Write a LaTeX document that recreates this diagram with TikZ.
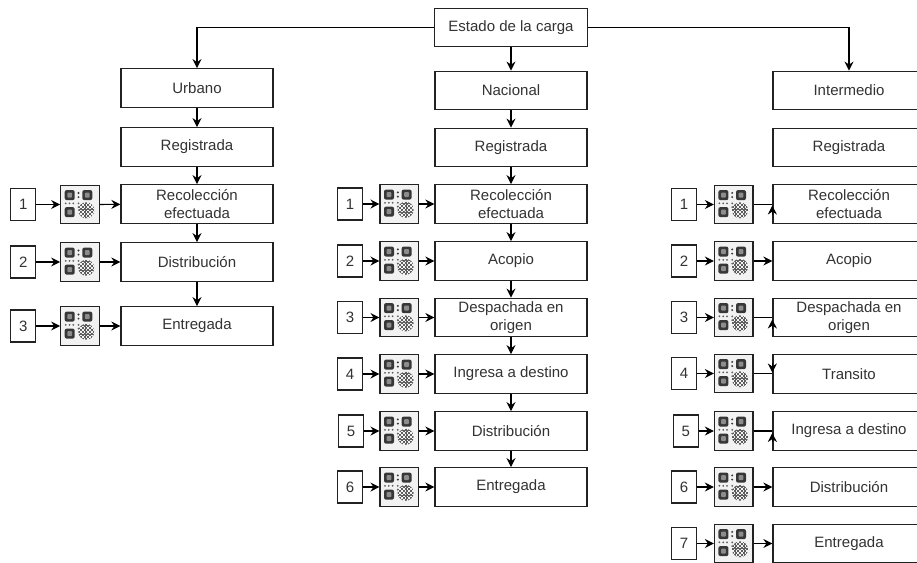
\documentclass[tikz,border=0pt]{standalone}
\usepackage{fontspec}
\setmainfont{Liberation Sans}
\usetikzlibrary{arrows.meta,calc}
\definecolor{boxc}{RGB}{34,34,34}
\definecolor{txtc}{RGB}{51,51,51}
\definecolor{qrfill}{RGB}{242,242,242}
\definecolor{qrdark}{RGB}{55,55,55}
\definecolor{qrmid}{RGB}{140,140,140}
\definecolor{qrgray}{RGB}{95,95,95}
\newcommand\lab{\fontsize{15}{17.5}\selectfont}
\tikzset{
  box/.style={draw=boxc, line width=1.3pt, minimum width=152pt, minimum height=38.5pt,
    inner sep=0pt, font=\lab, text=txtc, align=center, fill=white},
  numbox/.style={draw=boxc, line width=1.2pt, minimum width=25pt, minimum height=32pt,
    inner sep=0pt, font=\lab, text=txtc, fill=white},
  qrbox/.style={draw=boxc, line width=1.2pt, minimum width=38.5pt, minimum height=38.5pt,
    inner sep=0pt, fill=qrfill},
  conn/.style={line width=1.2pt, draw=black},
  arr/.style={conn, -{Stealth[length=9pt,width=9pt,inset=3pt]}},
  qrpic/.pic={
    \foreach \px/\py in {-10.3/-9.4, 7.3/-9.4, -10.3/7.6}{
      \fill[qrdark, rounded corners=2pt] ({\px-5},{\py-5}) rectangle ({\px+5},{\py+5});
      \fill[qrmid, rounded corners=0.8pt] ({\px-2.4},{\py-2.4}) rectangle ({\px+2.4},{\py+2.4});
    }
    \fill[qrdark] (-1.5,-11.6) circle (1.1);
    \fill[qrdark] (-1.5,-7.4) circle (1.1);
    \fill[qrgray] (-14.3,-1.2) circle (1);
    \fill[qrgray] (-10.5,-1.2) circle (1);
    \fill[qrgray] (-6.7,-1.2) circle (1);
    \fill[qrgray] (-1.5,-1.2) circle (1);
    \fill[qrgray] (-1.5,2.6) circle (1);
    \begin{scope}
      \clip (6.3,5.8) circle (8);
      \foreach \i in {-5,...,5}{
        \foreach \j in {-5,...,5}{
          \pgfmathtruncatemacro\kk{mod(\i+\j+10,2)}
          \ifnum\kk=0
            \fill[qrgray] ({6.3+(\i)*1.8-1},{5.8+(\j)*1.8-1}) rectangle ++(2,2);
          \fi
        }
      }
    \end{scope}
  }
}
\newcommand\qrrow[5]{%
  \node[numbox] (#1n) at (#3,#5) {#2};
  \node[qrbox] (#1q) at (#4,#5) {};
  \pic at (#1q.center) {qrpic};
  \draw[arr] (#1n) -- (#1q);
}
\begin{document}
\begin{tikzpicture}[x=1pt,y=-1pt]
\useasboundingbox (0,0) rectangle (917,562);
\clip (0,0) rectangle (917,562);
\fill[white] (0,0) rectangle (917,562);

% top
\node[box, minimum width=153pt] (est) at (511,27.5) {Estado de la carga};
\node[box] (urb) at (197,88) {Urbano};
\node[box] (nac) at (511,90.5) {Nacional};
\node[box] (int) at (849,90.5) {Intermedio};
\draw[arr] (est.west) -| (urb.north);
\draw[arr] (est.east) -| (int.north);
\draw[arr] (est) -- (nac);

% Urbano column
\node[box] (u0) at (197,147) {Registrada};
\node[box] (u1) at (197,204) {Recolección\\efectuada};
\node[box] (u2) at (197,262) {Distribución};
\node[box] (u3) at (197,326) {Entregada};
\draw[arr] (urb) -- (u0);
\draw[arr] (u0) -- (u1);
\draw[arr] (u1) -- (u2);
\draw[arr] (u2) -- (u3);
\qrrow{ua}{1}{23.3}{80}{204.5}
\qrrow{ub}{2}{23.3}{80}{262}
\qrrow{uc}{3}{23.3}{80}{326}
\draw[arr] (uaq) -- (u1);
\draw[arr] (ubq) -- (u2);
\draw[arr] (ucq) -- (u3);

% Nacional column
\node[box] (n0) at (511,147.5) {Registrada};
\node[box] (n1) at (511,204) {Recolección\\efectuada};
\node[box] (n2) at (511,261) {Acopio};
\node[box] (n3) at (511,317.5) {Despachada en\\origen};
\node[box] (n4) at (511,374) {Ingresa a destino};
\node[box] (n5) at (511,431) {Distribución};
\node[box] (n6) at (511,487) {Entregada};
\draw[arr] (nac) -- (n0);
\draw[arr] (n0) -- (n1);
\draw[arr] (n1) -- (n2);
\draw[arr] (n2) -- (n3);
\draw[arr] (n3) -- (n4);
\draw[arr] (n4) -- (n5);
\draw[arr] (n5) -- (n6);
\qrrow{na}{1}{350}{399.3}{204}
\qrrow{nb}{2}{350}{399.3}{261}
\qrrow{nc}{3}{350}{399.3}{317.5}
\qrrow{nd}{4}{350}{399.3}{374}
\qrrow{ne}{5}{351}{399.3}{431}
\qrrow{nf}{6}{350}{399.3}{487}
\draw[arr] (naq) -- (n1);
\draw[arr] (nbq) -- (n2);
\draw[arr] (ncq) -- (n3);
\draw[arr] (ndq) -- (n4);
\draw[arr] (neq) -- (n5);
\draw[arr] (nfq) -- (n6);

% Intermedio column
\node[box] (i0) at (849,147.5) {Registrada};
\node[box] (i1) at (849,204) {Recolección\\efectuada};
\node[box] (i2) at (849,261) {Acopio};
\node[box] (i3) at (849,317.5) {Despachada en\\origen};
\node[box] (i4) at (849,374) {Transito};
\node[box] (i5) at (849,431) {Ingresa a destino};
\node[box] (i6) at (849,487) {Distribución};
\node[box] (i7) at (849,543.5) {Entregada};
\qrrow{ia}{1}{684}{733.7}{204.5}
\qrrow{ib}{2}{684}{733.7}{261}
\qrrow{ic}{3}{684}{733.7}{317.5}
\qrrow{id}{4}{684}{733.7}{373.5}
\qrrow{ie}{5}{685.7}{733.7}{431}
\qrrow{if}{6}{684}{733.7}{487}
\qrrow{ig}{7}{684}{733.7}{543.5}
% odd connectors
\draw[conn] (iaq) -- (iaq -| i1.west);
\draw[arr] ($(i1.west)+(0,11)$) -- ($(i1.west)+(0,1.5)$);
\draw[arr] (ibq) -- (i2);
\draw[conn] (icq) -- (icq -| i3.west);
\draw[arr] ($(i3.west)+(0,11)$) -- ($(i3.west)+(0,2)$);
\draw[conn] (idq) -- (idq -| i4.west);
\draw[arr] ($(i4.west)+(0,-11)$) -- ($(i4.west)+(0,-1.5)$);
\draw[conn] (ieq) -- (ieq -| i5.west);
\draw[arr] ($(i5.west)+(0,11)$) -- ($(i5.west)+(0,2)$);
\draw[arr] (ifq) -- (i6);
\draw[arr] (igq) -- (i7);
\end{tikzpicture}
\end{document}
